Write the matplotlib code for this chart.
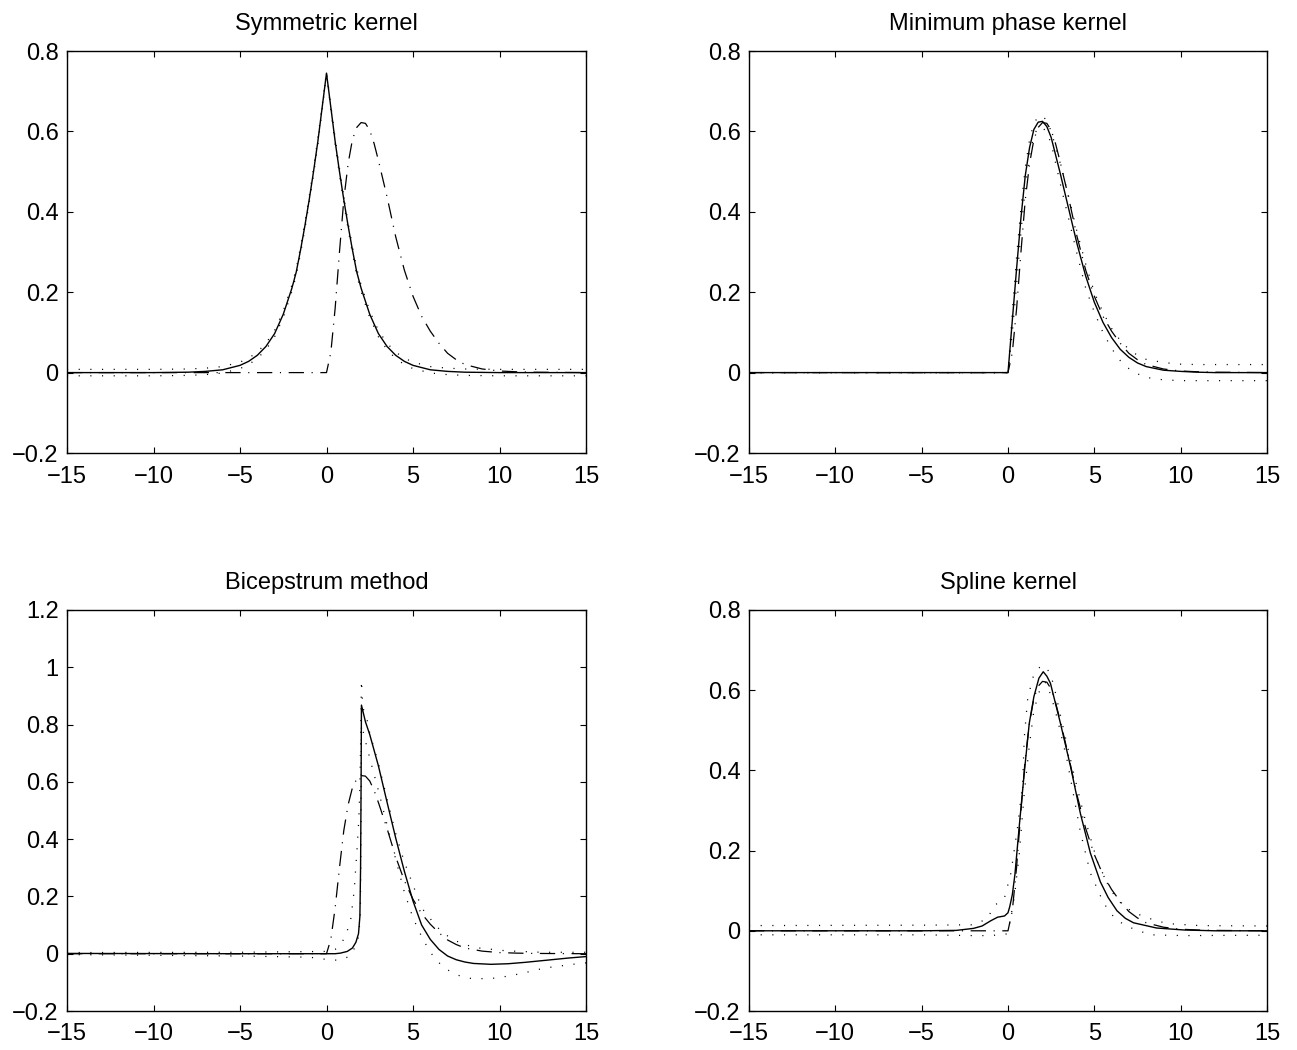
import matplotlib
matplotlib.use("Agg")
import matplotlib.pyplot as plt
from matplotlib.ticker import FuncFormatter

plt.rcParams['font.family'] = ['Liberation Sans', 'DejaVu Sans']
plt.rcParams['lines.scale_dashes'] = False

# ---------------- data ----------------
titles = ["Symmetric kernel", "Minimum phase kernel", "Bicepstrum method", "Spline kernel"]
x_ticks = [-15, -10, -5, 0, 5, 10, 15]
y_ticks_a = [-0.2, 0, 0.2, 0.4, 0.6, 0.8]
y_ticks_c = [-0.2, 0, 0.2, 0.4, 0.6, 0.8, 1, 1.2]

# true kernel (dash-dot), shared by all panels
true_x = [-15, 0, 0.25, 0.5, 0.75, 1.0, 1.25, 1.5, 1.75, 2.0, 2.25, 2.5, 2.75, 3.0, 3.5,
          4.0, 4.5, 5.0, 5.5, 6.0, 6.5, 7.0, 7.5, 8.0, 9.0, 10.0, 11.0, 12.0, 15]
true_y = [0, 0, 0.05, 0.16, 0.30, 0.43, 0.52, 0.58, 0.61, 0.622, 0.62, 0.603, 0.57, 0.528, 0.437,
          0.338, 0.255, 0.19, 0.14, 0.103, 0.073, 0.048, 0.032, 0.02, 0.009, 0.004, 0.002, 0.001, 0]

# panel 1: symmetric kernel estimate and bounds
sym_x = [-15, -10, -8, -7, -6, -5, -4.5, -4, -3.5, -3, -2.5, -2, -1.75, -1.5, -1.25, -1, -0.75, -0.5, -0.25,
         0, 0.25, 0.5, 0.75, 1, 1.25, 1.5, 1.75, 2, 2.5, 3, 3.5, 4, 4.5, 5, 6, 7, 8, 10, 15]
sym_y = [0, 0, 0.001, 0.003, 0.007, 0.018, 0.028, 0.043, 0.065, 0.097, 0.145, 0.21, 0.25, 0.305, 0.365, 0.43, 0.5, 0.575, 0.66,
         0.745, 0.66, 0.575, 0.5, 0.43, 0.365, 0.305, 0.25, 0.21, 0.145, 0.097, 0.065, 0.043, 0.028, 0.018, 0.007, 0.003, 0.001, 0, 0]
sym_up = [0.008, 0.008, 0.009, 0.011, 0.015, 0.026, 0.036, 0.051, 0.073, 0.105, 0.153, 0.218, 0.258, 0.313, 0.373, 0.438, 0.508, 0.583, 0.665,
          0.748, 0.665, 0.583, 0.508, 0.438, 0.373, 0.313, 0.258, 0.218, 0.153, 0.105, 0.073, 0.051, 0.036, 0.026, 0.015, 0.011, 0.009, 0.008, 0.008]
sym_lo = [-0.008, -0.008, -0.007, -0.005, -0.001, 0.010, 0.020, 0.035, 0.057, 0.089, 0.137, 0.202, 0.242, 0.297, 0.357, 0.422, 0.492, 0.567, 0.655,
          0.742, 0.655, 0.567, 0.492, 0.422, 0.357, 0.297, 0.242, 0.202, 0.137, 0.089, 0.057, 0.035, 0.020, 0.010, -0.001, -0.005, -0.007, -0.008, -0.008]

# panel 2: minimum phase kernel
mp_x = [-15, 0, 0.25, 0.5, 0.75, 1, 1.25, 1.5, 1.75, 2, 2.25, 2.5, 3, 3.5, 4, 4.5, 5, 5.5, 6, 6.5, 7, 7.5, 8, 9, 10, 11, 12, 15]
mp_y = [0, 0, 0.13, 0.26, 0.385, 0.49, 0.56, 0.605, 0.623, 0.625, 0.612, 0.585, 0.5, 0.41, 0.32, 0.24, 0.175, 0.125, 0.087,
        0.058, 0.038, 0.024, 0.015, 0.006, 0.003, 0.001, 0, 0]
mp_up = [0, 0, 0.15, 0.29, 0.41, 0.51, 0.58, 0.62, 0.637, 0.638, 0.627, 0.6, 0.525, 0.44, 0.35, 0.27, 0.2, 0.15, 0.11,
         0.08, 0.058, 0.043, 0.033, 0.025, 0.021, 0.02, 0.02, 0.02]
mp_lo = [0, 0, 0.10, 0.22, 0.35, 0.46, 0.54, 0.59, 0.61, 0.61, 0.597, 0.57, 0.475, 0.385, 0.295, 0.21, 0.15, 0.1, 0.06,
         0.03, 0.01, -0.003, -0.012, -0.018, -0.02, -0.02, -0.02, -0.02]

# panel 3: bicepstrum method
bc_x = [-15, -5, 0, 0.5, 0.8, 1.2, 1.5, 1.7, 1.85, 1.93, 1.97, 2.0, 2.02, 2.25, 2.5, 3.0, 3.5, 4.0, 4.5, 5.0, 5.5,
        6.0, 6.5, 7.0, 7.5, 8.0, 8.5, 9.5, 10.5, 11.5, 13, 14, 15]
bc_y = [0.001, 0, 0, 0, 0.002, 0.008, 0.02, 0.04, 0.07, 0.13, 0.3, 0.6, 0.868, 0.81, 0.765, 0.656, 0.529, 0.404, 0.288, 0.184, 0.1,
        0.05, 0.015, -0.008, -0.021, -0.029, -0.034, -0.037, -0.035, -0.03, -0.021, -0.015, -0.01]
bc_up_x = [-15, -5, 0, 0.5, 0.75, 1.1, 1.4, 1.6, 1.77, 1.87, 1.93, 1.97, 2.02, 2.1, 2.35, 2.5, 3.0, 3.5, 4.0, 4.5, 5.0, 5.5,
           6.0, 6.5, 7.0, 7.5, 8.5, 10.4, 12.4, 15]
bc_up = [0.004, 0.005, 0.008, 0.015, 0.028, 0.06, 0.12, 0.22, 0.37, 0.47, 0.58, 0.73, 0.955, 0.86, 0.815, 0.77, 0.665, 0.54, 0.42, 0.32, 0.24, 0.16,
         0.122, 0.087, 0.062, 0.044, 0.022, 0.01, 0.005, 0.005]
bc_lo_x = [-15, -5, -1, 0, 0.7, 1.35, 1.68, 1.87, 1.96, 1.99, 2.02, 2.3, 2.6, 3.0, 3.5, 4.0, 4.5, 5.0, 5.25, 5.5, 5.81,
           6.2, 6.67, 7.15, 7.8, 8.5, 9.85, 11.2, 12.6, 14.5, 15]
bc_lo = [-0.003, -0.008, -0.012, -0.02, -0.023, -0.009, 0.026, 0.063, 0.15, 0.4, 0.8, 0.73, 0.66, 0.57, 0.45, 0.33, 0.215, 0.125, 0.092, 0.06, 0.025,
         -0.012, -0.042, -0.062, -0.08, -0.088, -0.085, -0.07, -0.05, -0.035, -0.032]

# panel 4: spline kernel
sp_x = [-15, -5, -3, -2, -1.5, -1.0, -0.6, -0.2, 0.0, 0.1, 0.25, 0.4, 0.65, 0.94, 1.23, 1.5, 1.79, 2.04, 2.25, 2.46,
        3.04, 3.62, 4.19, 4.77, 5.35, 5.8, 6.31, 6.8, 7.27, 8.6, 10.2, 12, 15]
sp_y = [0, 0, 0.001, 0.006, 0.012, 0.025, 0.034, 0.037, 0.045, 0.06, 0.09, 0.14, 0.26, 0.393, 0.517, 0.584, 0.63, 0.646, 0.635, 0.617,
        0.517, 0.41, 0.293, 0.194, 0.122, 0.083, 0.05, 0.031, 0.02, 0.007, 0.002, 0, 0]
sp_up_x = [-15, -5, -2, -1.2, -0.79, -0.21, 0.17, 0.56, 0.85, 0.94, 1.13, 1.42, 1.75, 2.08, 2.4, 2.65, 3.23, 3.81, 4.39,
           5.16, 5.93, 6.7, 7.85, 9.2, 11.1, 15]
sp_up = [0.013, 0.014, 0.015, 0.03, 0.063, 0.081, 0.144, 0.26, 0.368, 0.48, 0.575, 0.63, 0.655, 0.662, 0.645, 0.613, 0.5, 0.392, 0.29,
         0.174, 0.102, 0.06, 0.035, 0.018, 0.013, 0.012]
sp_lo_x = [-15, -5, -2, -1, -0.1, 0.1, 0.37, 0.65, 0.94, 1.23, 1.5, 1.89, 2.2, 2.5, 2.85, 3.42, 4.19, 4.77, 5.54, 6.2, 6.89,
           8.23, 10.2, 15]
sp_lo = [-0.01, -0.01, -0.012, -0.012, -0.008, 0.02, 0.085, 0.19, 0.343, 0.46, 0.55, 0.608, 0.62, 0.585, 0.53, 0.426, 0.247, 0.144,
         0.069, 0.03, 0.011, -0.01, -0.012, -0.011]

panels = [
    dict(est=(sym_x, sym_y), up=(sym_x, sym_up), lo=(sym_x, sym_lo), ylim=(-0.2, 0.8), yt=y_ticks_a),
    dict(est=(mp_x, mp_y), up=(mp_x, mp_up), lo=(mp_x, mp_lo), ylim=(-0.2, 0.8), yt=y_ticks_a),
    dict(est=(bc_x, bc_y), up=(bc_up_x, bc_up), lo=(bc_lo_x, bc_lo), ylim=(-0.2, 1.2), yt=y_ticks_c),
    dict(est=(sp_x, sp_y), up=(sp_up_x, sp_up), lo=(sp_lo_x, sp_lo), ylim=(-0.2, 0.8), yt=y_ticks_a),
]

# ---------------- layout ----------------
W, H = 1297, 1050
fig = plt.figure(figsize=(W / 100, H / 100), dpi=100)
fig.patch.set_facecolor('white')
boxes = [
    (67, 51, 586, 453), (749, 51, 1267, 453),
    (67, 610, 586, 1011), (749, 610, 1267, 1011),
]

fmt = FuncFormatter(lambda v, p: (f"{v:g}").replace('-', '\u2212'))
dot_style = (0, (0.8, 7.6))
dashdot_style = (0, (11, 5.5, 0.8, 5.5))

for (l, t, r, b), p, title in zip(boxes, panels, titles):
    ax = fig.add_axes([l / W, 1 - b / H, (r - l) / W, (b - t) / H])
    ax.plot(*p['up'], color='black', lw=0.9, linestyle=dot_style)
    ax.plot(*p['lo'], color='black', lw=0.9, linestyle=dot_style)
    ax.plot(true_x, true_y, color='black', lw=0.9, linestyle=dashdot_style)
    ax.plot(*p['est'], color='black', lw=1.0, linestyle='-')
    ax.set_xlim(-15, 15)
    ax.set_ylim(*p['ylim'])
    ax.set_xticks(x_ticks)
    ax.set_yticks(p['yt'])
    ax.xaxis.set_major_formatter(fmt)
    ax.yaxis.set_major_formatter(fmt)
    ax.tick_params(direction='in', top=True, right=True, length=4, width=0.8,
                   labelsize=17, colors='black')
    ax.tick_params(axis='x', pad=9)
    ax.tick_params(axis='y', pad=6)
    for s in ax.spines.values():
        s.set_linewidth(1.0)
    ax.set_title(title, fontsize=17, pad=15)

fig.savefig("out.png", dpi=100, facecolor='white')
